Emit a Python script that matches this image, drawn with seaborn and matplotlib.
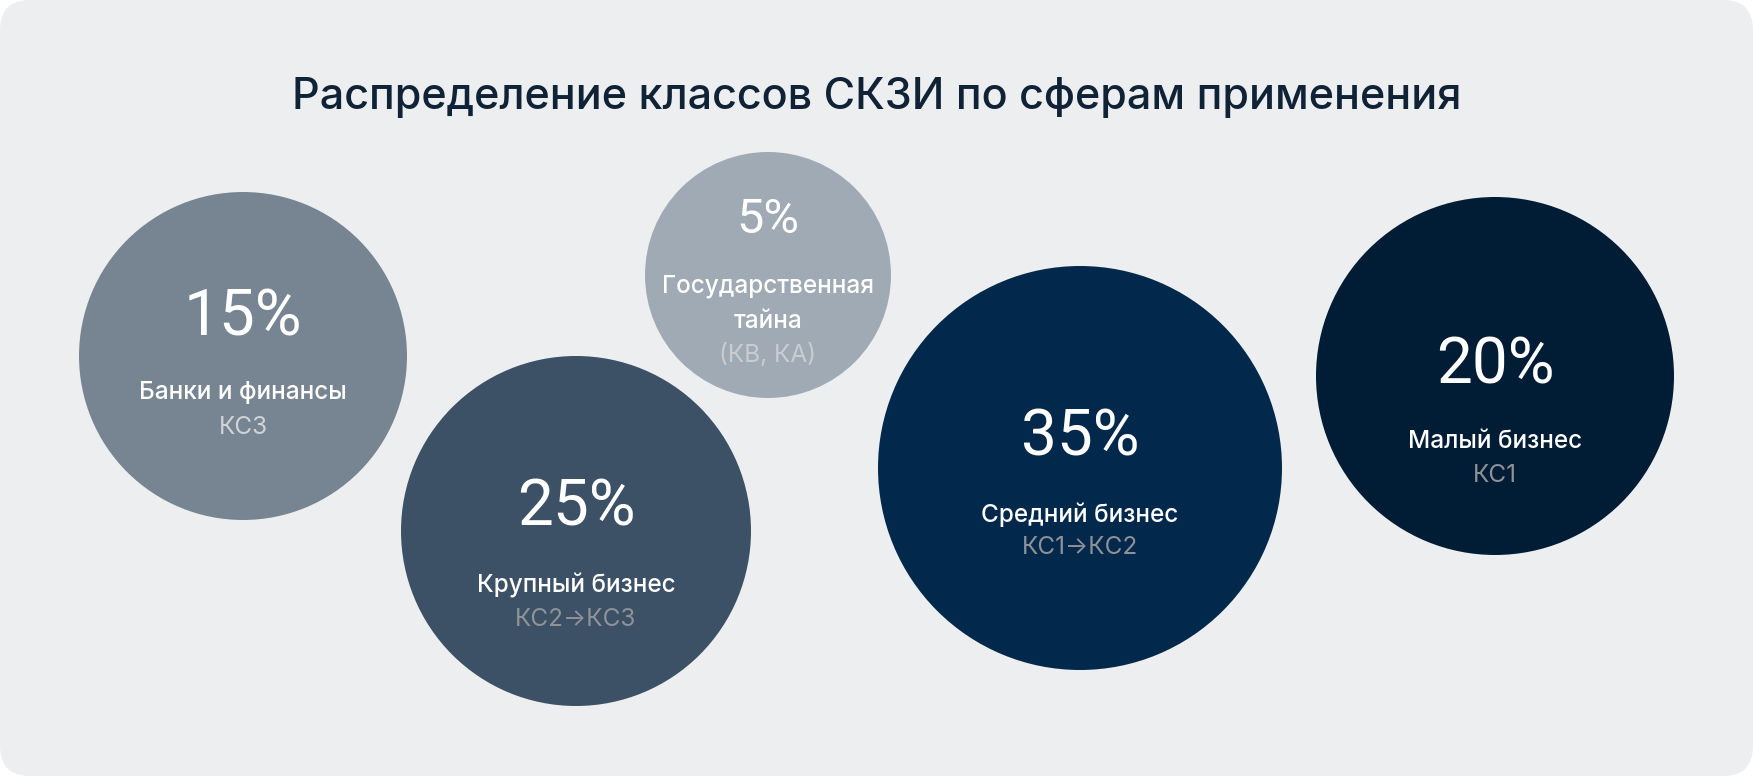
import matplotlib
matplotlib.use("Agg")
import matplotlib.pyplot as plt
from matplotlib.patches import FancyBboxPatch
import seaborn as sns
import pandas as pd

# данные
shares = [15, 25, 5, 35, 20]
sectors = ["Банки и финансы", "Крупный бизнес", "Государственная\nтайна",
           "Средний бизнес", "Малый бизнес"]
classes = ["КС3", "КС2→КС3", "(КВ, КА)", "КС1→КС2", "КС1"]

# раскладка кругов (в пикселях картинки)
cx = [243, 576, 768, 1080, 1495]
cy = [356, 531, 275, 468, 376]
radius = [164, 175, 123, 202, 179]
pct_dy = [-39, -23, -55, -31, -11]
label_dy = [37, 54, 29, 47, 66]
sub_dy = [71, 89, 80, 80, 99]
pct_size = [46, 46, 35, 46, 46]

fill_colors = ["#778593", "#3C5166", "#A0AAB4", "#02294C", "#011D36"]
sub_colors = ["#D1D3D6", "#8F9398", "#C9CDD2", "#8E9297", "#8E9297"]

W, H = 1753, 776
DPI = 100

sns.set_style("white")
plt.rcParams["font.family"] = ["Inter", "DejaVu Sans"]

df = pd.DataFrame({"sector": sectors, "cx": cx, "cy": cy})
palette = dict(zip(sectors, fill_colors))
# диаметр маркера в пунктах -> площадь
sizes = {s: (2 * r * 72 / DPI) ** 2 for s, r in zip(sectors, radius)}

fig = plt.figure(figsize=(W / DPI, H / DPI), dpi=DPI, facecolor="white")
ax = fig.add_axes([0, 0, 1, 1])
ax.set_facecolor("none")

bg = FancyBboxPatch((0, 0), W, H, boxstyle="round,pad=0,rounding_size=30",
                    facecolor="#ECEEF0", edgecolor="none", zorder=0)
ax.add_patch(bg)

sns.scatterplot(data=df, x="cx", y="cy", hue="sector", size="sector",
                palette=palette, sizes=sizes, linewidth=0, legend=False,
                ax=ax, zorder=2)

ax.set_xlim(0, W)
ax.set_ylim(H, 0)
ax.axis("off")

ax.text(W / 2, 98, "Распределение классов СКЗИ по сферам применения",
        ha="center", va="center", fontsize=31, color="#0F2236",
        fontweight="medium", zorder=3)

for i in range(len(shares)):
    x, y = cx[i], cy[i]
    ax.text(x, y + pct_dy[i], f"{shares[i]}%", ha="center", va="center",
            fontsize=pct_size[i], color="white", zorder=3,
            family=["Roboto", "DejaVu Sans"])
    lines = sectors[i].split("\n")
    n = len(lines)
    for j, line in enumerate(lines):
        ly = y + label_dy[i] + (j - (n - 1) / 2) * 35
        ax.text(x, ly, line, ha="center", va="center", fontsize=17.5,
                color="white", fontweight="medium", zorder=3)
    ax.text(x, y + sub_dy[i], classes[i], ha="center", va="center",
            fontsize=17.5, color=sub_colors[i], zorder=3)

fig.savefig("out.png", dpi=DPI, facecolor="white")
